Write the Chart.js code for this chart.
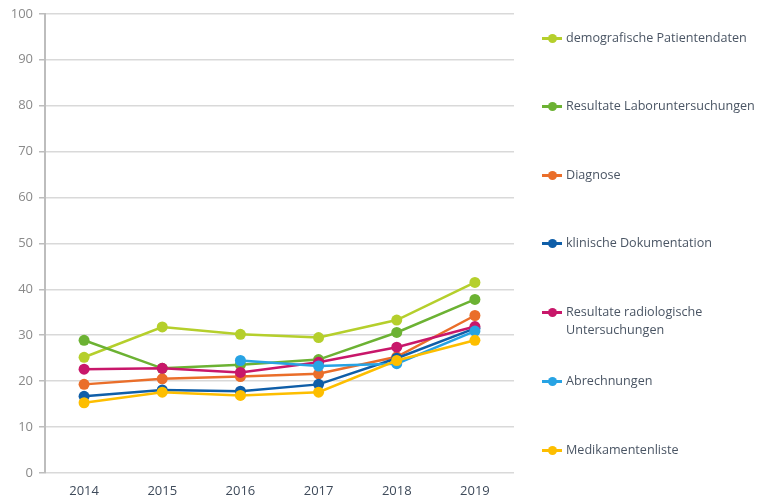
<!DOCTYPE html>
<html>
<head>
<meta charset="utf-8">
<script src="https://cdn.jsdelivr.net/npm/chart.js@4"></script>
<style>
  html, body { margin: 0; padding: 0; background: #fff; }
  #wrap { position: relative; width: 763px; height: 500px; }
  #legend { position: absolute; left: 542px; top: 0; font-family: "Open Sans", sans-serif; font-size: 12.6px; color: #4a5564; }
  .item { position: absolute; left: 0; white-space: nowrap; line-height: 18px; }
  .mark { position: absolute; left: 0; top: 8px; width: 20px; height: 2.5px; }
  .mark span { position: absolute; left: 6px; top: -3.5px; width: 9px; height: 9px; border-radius: 50%; }
  .txt { position: absolute; left: 24px; top: 0; }
</style>
</head>
<body>
<div id="wrap">
  <canvas id="chart" width="763" height="500"></canvas>
  <div id="legend"></div>
</div>
<script>
// Jahre
const years = ['2014', '2015', '2016', '2017', '2018', '2019'];

// Werte je Datenkategorie (%)
const demografisch = [25.2, 31.8, 30.2, 29.5, 33.3, 41.5];
const labor = [28.9, 22.8, 23.6, 24.7, 30.6, 37.8];
const diagnose = [19.3, 20.5, 21.0, 21.6, 25.3, 34.3];
const klinisch = [16.7, 18.1, 17.8, 19.3, 25.0, 31.5];
const radiologie = [22.6, 22.8, 21.9, 24.1, 27.4, 31.9];
const abrechnungen = [null, null, 24.5, 23.3, 23.8, 30.9];
const medikamente = [15.3, 17.6, 16.9, 17.6, 24.5, 28.9];

const seriesNames = [
    'demografische Patientendaten',
    'Resultate Laboruntersuchungen',
    'Diagnose',
    'klinische Dokumentation',
    ['Resultate radiologische', 'Untersuchungen'],
    'Abrechnungen',
    'Medikamentenliste'
];
const seriesValues = [demografisch, labor, diagnose, klinisch, radiologie, abrechnungen, medikamente];
const seriesColors = ['#b5cf2c', '#6cb233', '#ea6e2a', '#0f5ea8', '#c8176a', '#27a3e4', '#fdbe00'];

const yTicks = [0, 10, 20, 30, 40, 50, 60, 70, 80, 90, 100];

const datasets = seriesValues.map((values, i) => ({
    label: Array.isArray(seriesNames[i]) ? seriesNames[i].join(' ') : seriesNames[i],
    data: values,
    borderColor: seriesColors[i],
    backgroundColor: seriesColors[i],
    borderWidth: 2.5,
    pointRadius: 5.5,
    pointHoverRadius: 5.5,
    pointBorderWidth: 0,
    tension: 0,
    // spätere Reihen oben zeichnen
    order: seriesValues.length - i
}));

const chart = new Chart(document.getElementById('chart'), {
    type: 'line',
    data: { labels: years, datasets },
    options: {
        responsive: false,
        animation: false,
        layout: { padding: { left: 0, right: 249, top: 13, bottom: 0 } },
        plugins: {
            legend: { display: false },
            tooltip: { enabled: false }
        },
        scales: {
            x: {
                offset: true,
                grid: { display: false, drawTicks: false, offset: true },
                border: { display: false },
                ticks: {
                    color: '#3e4a5a',
                    font: { family: 'Open Sans', size: 13 },
                    padding: 10
                },
                afterFit: (scale) => { scale.height = 27; }
            },
            y: {
                min: 0,
                max: 100,
                afterBuildTicks: (scale) => { scale.ticks = yTicks.map(v => ({ value: v })); },
                grid: {
                    color: '#d9d9d9',
                    lineWidth: 1.5,
                    tickColor: '#bdbdbd',
                    tickLength: 6,
                    drawTicks: true
                },
                border: { display: true, color: '#bdbdbd', width: 2 },
                ticks: {
                    color: '#8a8a8a',
                    font: { family: 'Open Sans', size: 13 },
                    padding: 6
                },
                afterFit: (scale) => { scale.width = 45; }
            }
        }
    }
});

// Legende rechts
const legendTops = [29, 97, 166, 234, 303, 372, 441];
const legend = document.getElementById('legend');
seriesNames.forEach((name, i) => {
    const item = document.createElement('div');
    item.className = 'item';
    item.style.top = legendTops[i] + 'px';
    const lines = Array.isArray(name) ? name : [name];
    item.innerHTML = '<div class="mark" style="background:' + seriesColors[i] + '"><span style="background:' +
        seriesColors[i] + '"></span></div><div class="txt">' + lines.join('<br>') + '</div>';
    legend.appendChild(item);
});
</script>
</body>
</html>
